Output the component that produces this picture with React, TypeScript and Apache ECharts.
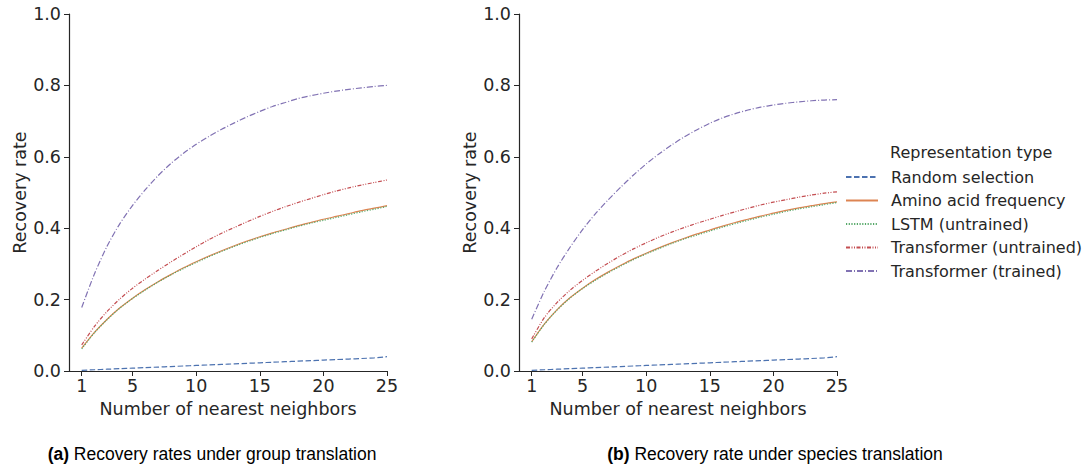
import React, { useEffect, useRef } from "react";
import * as echarts from "echarts";

const K = [1, 2, 3, 4, 5, 6, 7, 8, 9, 10, 11, 12, 13, 14, 15, 16, 17, 18, 19, 20, 21, 22, 23, 24, 25];
const X_TICKS = [1, 5, 10, 15, 20, 25];
const SERIES_NAMES = [
  "Random selection",
  "Amino acid frequency",
  "LSTM (untrained)",
  "Transformer (untrained)",
  "Transformer (trained)",
];

// (a) group translation
const A_RANDOM = [0.002, 0.0035, 0.005, 0.0065, 0.008, 0.0095, 0.011, 0.0125, 0.014, 0.0155, 0.017, 0.0185, 0.02, 0.0215, 0.023, 0.0245, 0.026, 0.0275, 0.029, 0.0305, 0.032, 0.0335, 0.035, 0.037, 0.04];
const A_AMINO = [0.064, 0.108, 0.145, 0.177, 0.204, 0.228, 0.25, 0.27, 0.289, 0.306, 0.322, 0.337, 0.351, 0.364, 0.376, 0.387, 0.397, 0.407, 0.416, 0.425, 0.433, 0.441, 0.449, 0.456, 0.463];
const A_LSTM = [0.062, 0.107, 0.144, 0.176, 0.203, 0.227, 0.249, 0.269, 0.287, 0.304, 0.32, 0.335, 0.349, 0.362, 0.374, 0.385, 0.395, 0.405, 0.414, 0.422, 0.43, 0.438, 0.446, 0.453, 0.461];
const A_TR_UNTRAINED = [0.073, 0.125, 0.167, 0.202, 0.232, 0.258, 0.282, 0.305, 0.327, 0.348, 0.368, 0.386, 0.402, 0.418, 0.433, 0.447, 0.46, 0.472, 0.483, 0.494, 0.504, 0.513, 0.521, 0.528, 0.535];
const A_TR_TRAINED = [0.178, 0.272, 0.35, 0.413, 0.464, 0.508, 0.547, 0.581, 0.61, 0.635, 0.657, 0.677, 0.695, 0.712, 0.727, 0.741, 0.752, 0.763, 0.771, 0.778, 0.784, 0.789, 0.793, 0.797, 0.8];

// (b) species translation
const B_RANDOM = [0.002, 0.0035, 0.005, 0.0065, 0.008, 0.0095, 0.011, 0.0125, 0.014, 0.0155, 0.017, 0.0185, 0.02, 0.0215, 0.023, 0.0245, 0.026, 0.0275, 0.029, 0.0305, 0.032, 0.0335, 0.035, 0.037, 0.04];
const B_AMINO = [0.082, 0.132, 0.172, 0.205, 0.232, 0.256, 0.277, 0.296, 0.314, 0.33, 0.345, 0.359, 0.372, 0.384, 0.395, 0.406, 0.416, 0.425, 0.434, 0.442, 0.45, 0.457, 0.463, 0.469, 0.474];
const B_LSTM = [0.081, 0.131, 0.171, 0.204, 0.231, 0.254, 0.275, 0.294, 0.312, 0.328, 0.343, 0.357, 0.37, 0.381, 0.392, 0.403, 0.413, 0.422, 0.431, 0.439, 0.447, 0.454, 0.46, 0.466, 0.472];
const B_TR_UNTRAINED = [0.09, 0.15, 0.192, 0.226, 0.254, 0.279, 0.302, 0.323, 0.342, 0.359, 0.375, 0.389, 0.402, 0.414, 0.425, 0.436, 0.446, 0.456, 0.465, 0.473, 0.48, 0.487, 0.493, 0.498, 0.502];
const B_TR_TRAINED = [0.145, 0.224, 0.29, 0.346, 0.396, 0.44, 0.479, 0.515, 0.549, 0.58, 0.608, 0.633, 0.656, 0.676, 0.694, 0.709, 0.721, 0.731, 0.739, 0.745, 0.75, 0.754, 0.757, 0.759, 0.76];

const COLORS = ["#4C72B0", "#DD8452", "#55A868", "#C44E52", "#8172B3"];
const DASHES: any[] = [[5.5, 2.5], "solid", [1.2, 1.5], [4, 1.5, 1, 1.5, 1, 1.5], [6, 2, 1, 2]];

const FONT = "DejaVu Sans";
const TXT = "#262626";

export default function App() {
  const ref = useRef<HTMLDivElement>(null);
  useEffect(() => {
    const chart = echarts.init(ref.current!, null, { renderer: "svg" });
    const grids = [
      { left: 69, top: 14, width: 318, height: 357 },
      { left: 519, top: 14, width: 318, height: 357 },
    ];
    const mkX = (i: number) => ({
      type: "value",
      gridIndex: i,
      min: 0,
      max: 25,
      name: "Number of nearest neighbors",
      nameLocation: "middle",
      nameGap: 29,
      nameTextStyle: { fontFamily: FONT, fontSize: 17.5, color: TXT },
      axisLine: { show: true, lineStyle: { color: "#262626", width: 1.2 } },
      axisTick: { show: true, customValues: X_TICKS, length: 5, lineStyle: { color: "#262626" } },
      axisLabel: { customValues: X_TICKS, fontFamily: FONT, fontSize: 17.5, color: TXT, margin: 6 },
      splitLine: { show: false },
    });
    const mkY = (i: number) => ({
      type: "value",
      gridIndex: i,
      min: 0,
      max: 1,
      interval: 0.2,
      name: "Recovery rate",
      nameLocation: "middle",
      nameGap: 36,
      nameTextStyle: { fontFamily: FONT, fontSize: 17.5, color: TXT },
      axisLine: { show: true, lineStyle: { color: "#262626", width: 1.2 } },
      axisTick: { show: true, length: 5, lineStyle: { color: "#262626" } },
      axisLabel: {
        fontFamily: FONT,
        fontSize: 17.5,
        color: TXT,
        margin: 8,
        formatter: (v: number) => v.toFixed(1),
      },
      splitLine: { show: false },
    });
    const dataA = [A_RANDOM, A_AMINO, A_LSTM, A_TR_UNTRAINED, A_TR_TRAINED];
    const dataB = [B_RANDOM, B_AMINO, B_LSTM, B_TR_UNTRAINED, B_TR_TRAINED];
    const series: any[] = [];
    [dataA, dataB].forEach((set, gi) => {
      set.forEach((vals, si) => {
        series.push({
          type: "line",
          name: SERIES_NAMES[si],
          xAxisIndex: gi,
          yAxisIndex: gi,
          data: K.map((k, j) => [k, vals[j]]),
          showSymbol: false,
          symbol: "none",
          smooth: 0.25,
          color: COLORS[si],
          lineStyle: { color: COLORS[si], width: 1.2, type: DASHES[si] },
          z: 2 + si,
        });
      });
    });
    chart.setOption({
      animation: false,
      backgroundColor: "#ffffff",
      grid: grids,
      xAxis: [mkX(0), mkX(1)],
      yAxis: [mkY(0), mkY(1)],
      legend: {
        orient: "vertical",
        left: 845,
        top: 169,
        padding: 0,
        itemWidth: 32,
        itemHeight: 12,
        itemGap: 7.5,
        data: SERIES_NAMES,
        itemStyle: { opacity: 0 },
        textStyle: { fontFamily: FONT, fontSize: 16, color: TXT, padding: [0, 0, 0, 8] },
        selectedMode: false,
      },
      graphic: [
        {
          type: "text",
          left: 890,
          top: 144,
          style: { text: "Representation type", fontFamily: FONT, fontSize: 16, fill: TXT },
        },
        {
          type: "text",
          x: 212,
          y: 454,
          style: {
            text: "{b|(a)} Recovery rates under group translation",
            rich: {
              b: { fontWeight: "bold", fontFamily: "Liberation Sans", fontSize: 17.5, fill: "#000" },
            },
            fontFamily: "Liberation Sans",
            fontSize: 17.5,
            fill: "#000",
            align: "center",
            verticalAlign: "middle",
          },
        },
        {
          type: "text",
          x: 775,
          y: 454,
          style: {
            text: "{b|(b)} Recovery rate under species translation",
            rich: {
              b: { fontWeight: "bold", fontFamily: "Liberation Sans", fontSize: 17.5, fill: "#000" },
            },
            fontFamily: "Liberation Sans",
            fontSize: 17.5,
            fill: "#000",
            align: "center",
            verticalAlign: "middle",
          },
        },
      ],
      series,
    });
    return () => chart.dispose();
  }, []);
  return <div ref={ref} style={{ width: 1089, height: 468, position: "absolute", left: 0, top: 0 }} />;
}
